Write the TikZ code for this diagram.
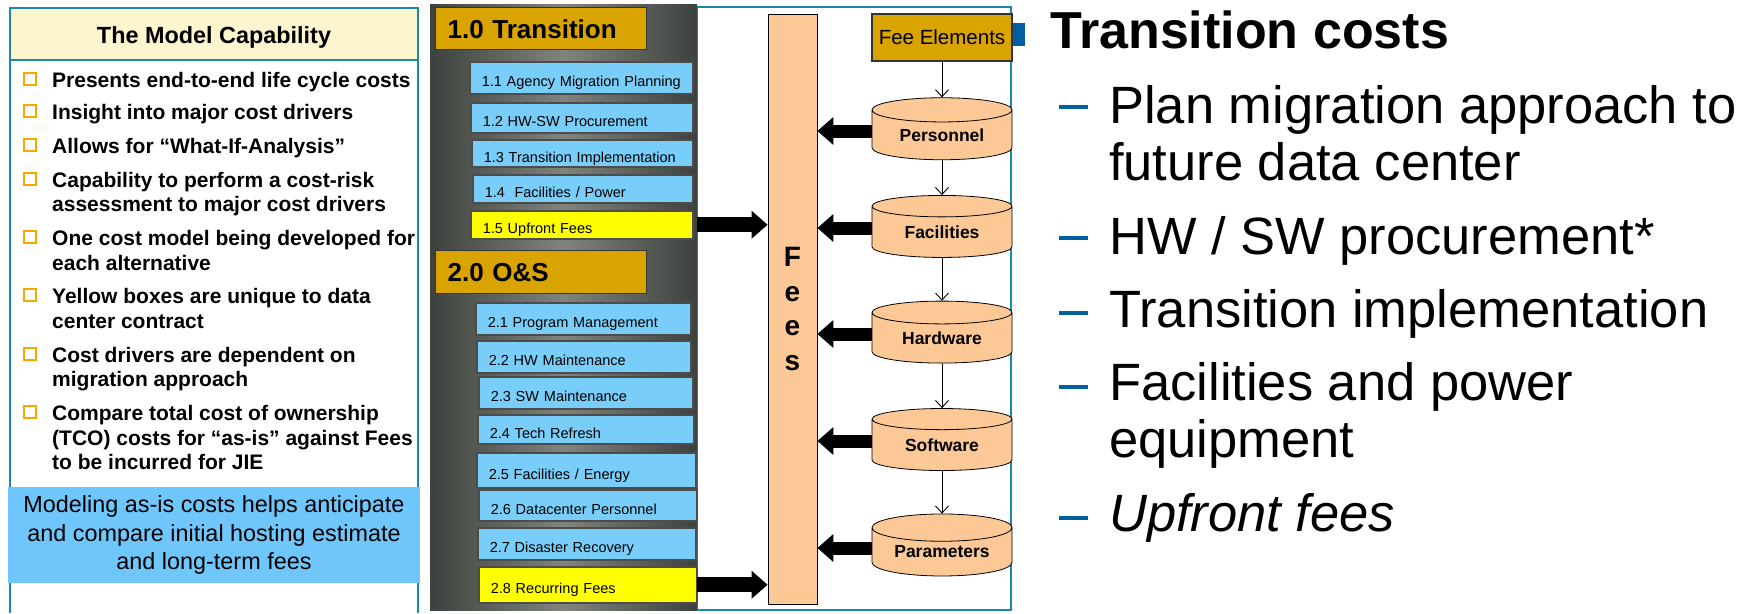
\documentclass[tikz,border=0pt]{standalone}
\usepackage{fontspec}
\setmainfont{Liberation Sans}
\usetikzlibrary{shapes.geometric,arrows.meta,positioning}

\definecolor{frameteal}{RGB}{24,138,168}
\definecolor{capyellow}{RGB}{253,245,205}
\definecolor{boxorange}{RGB}{245,168,0}
\definecolor{noteblue}{RGB}{110,198,250}
\definecolor{wbsblue}{RGB}{120,206,248}
\definecolor{wbsyellow}{RGB}{255,255,0}
\definecolor{gold}{RGB}{217,164,0}
\definecolor{peach}{RGB}{252,200,150}
\definecolor{dashblue}{RGB}{0,96,160}
\definecolor{paneldark}{RGB}{62,66,62}
\definecolor{panellight}{RGB}{128,132,125}

\tikzset{
  frame/.style={draw=frameteal, line width=2.5pt},
  captitle/.style={font=\fontsize{23.4}{28}\selectfont\bfseries, anchor=base, inner sep=0pt},
  captext/.style={font=\fontsize{21}{24.5}\selectfont\bfseries, anchor=base west, inner sep=0pt},
  qbox/.style={draw=boxorange, line width=2pt, fill=white, minimum size=12pt, inner sep=0pt},
  notebox/.style={fill=noteblue, minimum width=412pt, minimum height=96pt, align=center,
    font=\fontsize{23.4}{28.5}\selectfont},
  panel/.style={left color=paneldark, right color=paneldark, middle color=panellight,
    minimum width=267pt, minimum height=606pt, inner sep=0pt},
  headbox/.style={fill=gold, draw=black!80, line width=1.2pt, anchor=north west,
    minimum width=211pt, text width=187pt, inner xsep=12pt, inner ysep=0pt, align=left,
    font=\fontsize{26}{30}\selectfont\bfseries, text height=19pt, text depth=0pt},
  wbs/.style={draw=black!70, line width=1.5pt, anchor=north west, inner xsep=12pt,
    inner ysep=0pt, align=left, font=\fontsize{14.5}{17}\selectfont,
    text height=18pt, text depth=0pt},
  feesbar/.style={fill=peach, draw=black, line width=0.8pt, minimum width=49pt,
    minimum height=590pt, align=center, font=\fontsize{28}{34.5}\selectfont\bfseries},
  feebox/.style={fill=gold, draw=black!80, line width=1.2pt, minimum width=140pt,
    minimum height=47pt, inner sep=0pt, font=\fontsize{20.5}{24}\selectfont},
  drum/.style={cylinder, shape border rotate=90, aspect=0.286, draw, line width=0.8pt,
    fill=peach, minimum width=140pt, minimum height=62pt, inner sep=0pt,
    font=\fontsize{17.5}{20}\selectfont\bfseries},
  conn/.style={-{Straight Barb[length=7pt,width=13pt]}, line width=0.9pt},
  fat/.style={line width=13pt, -{Triangle[length=16pt,width=27pt]}},
  headline/.style={font=\fontsize{52}{60}\selectfont\bfseries, anchor=base west, inner sep=0pt},
  subline/.style={font=\fontsize{52.5}{60}\selectfont, anchor=base west, inner sep=0pt},
  dashmark/.style={fill=dashblue, minimum width=29pt, minimum height=4pt, inner sep=0pt},
}

\begin{document}
\begin{tikzpicture}[x=1pt,y=-1pt]
\useasboundingbox (0,0) rectangle (1756,613);
\fill[white] (0,0) rectangle (1756,613);

% Capability panel
\fill[capyellow] (10,8) rectangle (418,60);
\draw[frame] (10,613) -- (10,8) -- (418,8) -- (418,613);
\draw[frame] (10,60) -- (418,60);
\node[captitle] (captitle) at (214,43) {The Model Capability};
\foreach \y in {87,119,153,187,245,303,362,420}
  \node[qbox] (q\y) at (30,\y-8.5) {};
\foreach \y/\t in {87/Presents end-to-end life cycle costs,
    119/Insight into major cost drivers,
    153/Allows for “What-If-Analysis”,
    187/Capability to perform a cost-risk,
    211/assessment to major cost drivers,
    245/One cost model being developed for,
    270/each alternative,
    303/Yellow boxes are unique to data,
    328/center contract,
    362/Cost drivers are dependent on,
    386/migration approach,
    420/Compare total cost of ownership,
    445/(TCO) costs for “as-is” against Fees,
    469/to be incurred for JIE}
  \node[captext] (line\y) at (52,\y) {\t};
\node[notebox] (note) at (214,535) {Modeling as-is costs helps anticipate\\and compare initial hosting estimate\\and long-term fees};

% Transition costs list
\node[dashmark, minimum width=17pt, minimum height=23pt] (tcmark) at (1016.5,34.5) {};
\node[headline] (tc) at (1050,48) {Transition costs};
\foreach \y in {107,238,313,387,518}
  \node[dashmark] (d\y) at (1073.5,\y) {};
\node[subline] (plan) at (1109,123) {Plan migration approach to};
\node[subline] (plan2) at (1109,180) {future data center};
\node[subline] (hwsw) at (1109,254) {HW / SW procurement*};
\node[subline] (impl) at (1109,327) {Transition implementation};
\node[subline] (fac) at (1109,400) {Facilities and power};
\node[subline] (fac2) at (1109,457) {equipment};
\node[subline] (upf) at (1109,531) {\itshape Upfront fees};

% Fee frame and work breakdown panel
\draw[frame, line width=2pt] (697,7) rectangle (1011,610);
\node[panel] (panel) at (563.5,307) {};
\node[headbox, minimum height=42pt] (trans) at (435,7) {1.0 Transition};
\node[headbox, minimum height=43pt] (os) at (435,250) {2.0 O\&S};
\foreach \n/\x/\y/\w/\h/\c/\t in {
    b11/469/61/223/32/wbsblue/1.1 Agency Migration Planning,
    b12/470/102/222/30/wbsblue/1.2 HW-SW Procurement,
    b13/471/139/221/27/wbsblue/1.3 Transition Implementation,
    b14/472/174/220/28/wbsblue/{1.4 \ Facilities / Power},
    b15/470/210/222/28/wbsyellow/1.5 Upfront Fees,
    b21/475/302/215/32/wbsblue/2.1 Program Management,
    b22/476/340/214/32/wbsblue/2.2 HW Maintenance,
    b23/478/376/214/32/wbsblue/2.3 SW Maintenance,
    b24/477/414/216/29/wbsblue/2.4 Tech Refresh,
    b25/476/452/219/35/wbsblue/{2.5 Facilities / Energy},
    b26/478/489/218/31/wbsblue/2.6 Datacenter Personnel,
    b27/477/527/218/32/wbsblue/2.7 Disaster Recovery,
    b28/478/566/218/36/wbsyellow/2.8 Recurring Fees} {
  \pgfmathsetmacro{\tw}{\w-24}
  \node[wbs, fill=\c, minimum width=\w pt, minimum height=\h pt, text width=\tw pt] (\n) at (\x,\y) {\mbox{\t}};
}

% Fees and fee elements
\node[feesbar] (fees) at (792.5,309) {F\\e\\e\\s};
\node[feebox] (fee) at (942,37.5) {Fee Elements};
\node[drum] (pers) at (942,135) {Personnel};
\node[drum] (facil) at (942,232) {Facilities};
\node[drum] (hard) at (942,338) {Hardware};
\node[drum] (soft) at (942,445) {Software};
\node[drum] (param) at (942,552) {Parameters};

\draw[conn] (fee) -- (pers);
\draw[conn] (pers) -- (facil);
\draw[conn] (facil) -- (hard);
\draw[conn] (hard) -- (soft);
\draw[conn] (soft) -- (param);

\foreach \c in {pers,facil,hard,soft,param}
  \draw[fat] ([yshift=4pt]\c.west) -- ([yshift=4pt]\c.west -| fees.east);
\draw[fat, line width=15pt] (b15.east -| panel.east) -- (b15.east -| fees.west);
\draw[fat, line width=15pt] (b28.east -| panel.east) -- (b28.east -| fees.west);
\end{tikzpicture}
\end{document}
